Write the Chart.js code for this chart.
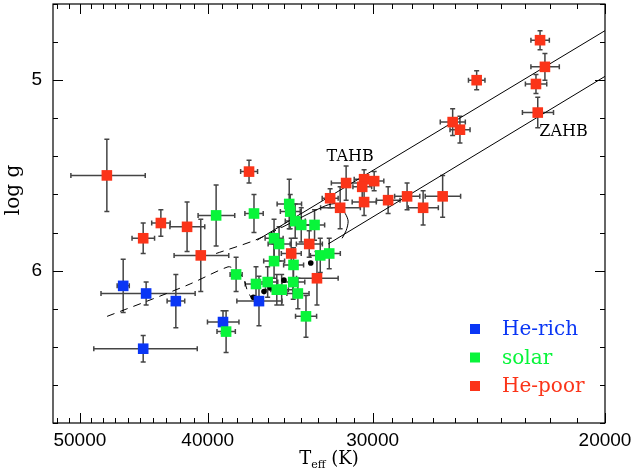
<!DOCTYPE html>
<html>
<head>
<meta charset="utf-8">
<script src="https://cdn.jsdelivr.net/npm/chart.js@4"></script>
<style>
  body { margin: 0; background: #fff; }
  #wrap { width: 632px; height: 473px; }
</style>
</head>
<body>
<div id="wrap"><canvas id="hbChart" width="632" height="473"></canvas></div>
<script>
// axis labels
const xTickLabels = [50000, 40000, 30000, 20000];
const yTickLabels = [5, 6];

// He-rich stars
const richTeff = [46360, 44540, 42290, 38950, 44770, 36580];
const richLogg = [6.08, 6.12, 6.16, 6.27, 6.41, 6.16];
const richTeffErr = [490, 3650, 650, 1070, 4030, 1440];
const richLoggErr = [0.14, 0.06, 0.14, 0.06, 0.07, 0.13];

// solar helium stars
const solarTeff = [39420, 36900, 38070, 34700, 34640, 34340, 33980, 33200, 35630, 35320, 32870,
                   32360, 35630, 34440, 36770, 36030, 34460, 35460, 35160, 34180, 33700, 38740];
const solarLogg = [5.71, 5.70, 6.02, 5.65, 5.69, 5.74, 5.76, 5.76, 5.83, 5.86, 5.92,
                   5.91, 5.95, 5.97, 6.07, 6.06, 6.06, 6.10, 6.10, 6.12, 6.24, 6.32];
const solarTeffErr = [1260, 590, 400, 740, 600, 600, 650, 580, 560, 680, 570,
                      620, 650, 600, 700, 630, 690, 710, 670, 660, 620, 620];
const solarLoggErr = [0.16, 0.10, 0.09, 0.13, 0.09, 0.09, 0.09, 0.08, 0.10, 0.09, 0.09,
                      0.08, 0.09, 0.09, 0.09, 0.08, 0.09, 0.08, 0.08, 0.08, 0.11, 0.11];

// He-poor stars
const poorTeff = [47700, 37220, 43410, 44770, 41470, 40490, 33510, 34580, 33060, 32310, 31750,
                  31420, 30450, 30550, 29920, 30450, 29200, 28250, 27470, 26550, 26090, 25760,
                  25020, 22400, 22210, 22560, 22490];
const poorLogg = [5.50, 5.48, 5.75, 5.83, 5.77, 5.92, 5.86, 5.91, 6.04, 5.62, 5.67,
                  5.54, 5.52, 5.56, 5.53, 5.64, 5.63, 5.61, 5.67, 5.61, 5.22, 5.26,
                  5.00, 4.79, 4.93, 5.02, 5.17];
const poorTeffErr = [3090, 550, 700, 880, 1260, 1930, 760, 600, 1200, 450, 1100,
                     820, 530, 500, 500, 640, 600, 620, 720, 820, 570, 450,
                     360, 360, 550, 420, 610];
const poorLoggErr = [0.19, 0.06, 0.07, 0.08, 0.13, 0.19, 0.07, 0.08, 0.14, 0.05, 0.11,
                     0.09, 0.05, 0.06, 0.05, 0.07, 0.07, 0.07, 0.09, 0.11, 0.07, 0.07,
                     0.05, 0.05, 0.07, 0.05, 0.08];

// small black dots
const dotTeff = [36940, 36260, 35860, 35020, 33420];
const dotLogg = [6.14, 6.11, 6.09, 6.05, 5.96];

// horizontal branch lines and tracks
const tahbTeff = [36700, 20000];
const tahbLogg = [5.84, 4.74];
const zahbTeff = [32420, 20000];
const zahbLogg = [5.86, 4.98];
const track1Teff = [47680, 44080, 41250, 38610, 38200, 37870, 37540, 37350, 37090];
const track1Logg = [6.24, 6.15, 6.07, 5.98, 5.99, 6.01, 6.05, 6.10, 6.14];
const track2Teff = [39420, 36830, 35080, 32590, 31860, 31470, 31310, 31420, 31640];
const track2Logg = [5.91, 5.84, 5.77, 5.66, 5.65, 5.70, 5.74, 5.79, 5.83];

const BLUE = '#0a36f5';
const GREEN = '#08f53a';
const RED = '#fb3419';

const pts = (xs, ys) => xs.map((x, i) => ({ x: x, y: ys[i] }));

const groups = [
    { T: richTeff, G: richLogg, dT: richTeffErr, dG: richLoggErr },
    { T: solarTeff, G: solarLogg, dT: solarTeffErr, dG: solarLoggErr },
    { T: poorTeff, G: poorLogg, dT: poorTeffErr, dG: poorLoggErr }
];

// error bars under the squares
const errorBars = {
    id: 'errorBars',
    beforeDatasetsDraw(chart) {
        const ctx = chart.ctx, xs = chart.scales.x, ys = chart.scales.y;
        const a = chart.chartArea;
        ctx.save();
        ctx.beginPath();
        ctx.rect(a.left, a.top, a.width, a.height);
        ctx.clip();
        ctx.strokeStyle = '#444';
        ctx.lineWidth = 1.5;
        const cap = 2.5;
        groups.forEach(g => {
            g.T.forEach((t, i) => {
                const x = xs.getPixelForValue(t), y = ys.getPixelForValue(g.G[i]);
                const x1 = xs.getPixelForValue(t - g.dT[i]), x2 = xs.getPixelForValue(t + g.dT[i]);
                const y1 = ys.getPixelForValue(g.G[i] - g.dG[i]), y2 = ys.getPixelForValue(g.G[i] + g.dG[i]);
                ctx.beginPath();
                ctx.moveTo(x1, y); ctx.lineTo(x2, y);
                ctx.moveTo(x1, y - cap); ctx.lineTo(x1, y + cap);
                ctx.moveTo(x2, y - cap); ctx.lineTo(x2, y + cap);
                ctx.moveTo(x, y1); ctx.lineTo(x, y2);
                ctx.moveTo(x - cap, y1); ctx.lineTo(x + cap, y1);
                ctx.moveTo(x - cap, y2); ctx.lineTo(x + cap, y2);
                ctx.stroke();
            });
        });
        ctx.restore();
    }
};

// box frame with inward ticks on all four sides, titles, labels, legend
const frameAndText = {
    id: 'frameAndText',
    afterDraw(chart) {
        const ctx = chart.ctx, xs = chart.scales.x, ys = chart.scales.y;
        const a = chart.chartArea;
        ctx.save();
        ctx.strokeStyle = '#000';
        ctx.lineWidth = 1.2;
        ctx.strokeRect(a.left, a.top, a.right - a.left, a.bottom - a.top);

        ctx.lineWidth = 1;
        ctx.beginPath();
        for (let t = 20000; t <= xs.max; t += 1000) {
            const px = Math.round(xs.getPixelForValue(t)) + 0.5;
            const len = t % 10000 === 0 ? 10 : 5;
            ctx.moveTo(px, a.bottom); ctx.lineTo(px, a.bottom - len);
            ctx.moveTo(px, a.top); ctx.lineTo(px, a.top + len);
        }
        for (let i = 0; i <= 11; i++) {
            const v = 4.6 + 0.2 * i;
            const py = Math.round(ys.getPixelForValue(v)) + 0.5;
            const len = Math.abs(v - Math.round(v)) < 1e-6 ? 10 : 5;
            ctx.moveTo(a.left, py); ctx.lineTo(a.left + len, py);
            ctx.moveTo(a.right, py); ctx.lineTo(a.right - len, py);
        }
        ctx.stroke();

        ctx.fillStyle = '#000';
        // x title: T_eff (K)
        const big = '18px "DejaVu Serif"', small = '11px "DejaVu Serif"';
        ctx.font = big;
        const wT = ctx.measureText('T').width, wK = ctx.measureText(' (K)').width;
        ctx.font = small;
        const wE = ctx.measureText('eff').width;
        let x0 = (a.left + a.right) / 2 - (wT + wE + wK) / 2;
        const base = 464;
        ctx.textBaseline = 'alphabetic';
        ctx.textAlign = 'left';
        ctx.font = big; ctx.fillText('T', x0, base);
        ctx.font = small; ctx.fillText('eff', x0 + wT, base + 4);
        ctx.font = big; ctx.fillText(' (K)', x0 + wT + wE, base);

        // y title
        ctx.save();
        ctx.translate(14, 190);
        ctx.rotate(-Math.PI / 2);
        ctx.font = '20px "DejaVu Serif"';
        ctx.textAlign = 'center';
        ctx.textBaseline = 'middle';
        ctx.fillText('log g', 0, 0);
        ctx.restore();

        // branch labels
        ctx.font = '16px "DejaVu Serif"';
        ctx.textAlign = 'center';
        ctx.textBaseline = 'middle';
        ctx.fillText('TAHB', xs.getPixelForValue(31200), ys.getPixelForValue(5.40));
        ctx.fillText('ZAHB', xs.getPixelForValue(21500), ys.getPixelForValue(5.27));

        // legend
        const items = [['He-rich', BLUE], ['solar', GREEN], ['He-poor', RED]];
        ctx.font = '20px "DejaVu Serif"';
        ctx.textAlign = 'left';
        items.forEach((it, i) => {
            const ly = 329 + i * 28.5;
            ctx.fillStyle = it[1];
            ctx.fillRect(470, ly - 5, 10, 10);
            ctx.fillText(it[0], 502, ly + 1);
        });
        ctx.restore();
    }
};

const markerStyle = color => ({
    pointStyle: 'rect', pointRadius: 7.5, pointHoverRadius: 7.5,
    backgroundColor: color, borderWidth: 0, showLine: false
});

// drop the label overflow padding so the plot box sits where it should
const noPad = s => { s.paddingTop = 0; s.paddingBottom = 0; s.paddingLeft = 0; s.paddingRight = 0; };

new Chart(document.getElementById('hbChart'), {
    type: 'scatter',
    data: {
        datasets: [
            Object.assign({ label: 'He-poor', data: pts(poorTeff, poorLogg) }, markerStyle(RED)),
            Object.assign({ label: 'solar', data: pts(solarTeff, solarLogg) }, markerStyle(GREEN)),
            Object.assign({ label: 'He-rich', data: pts(richTeff, richLogg) }, markerStyle(BLUE)),
            { label: 'dots', data: pts(dotTeff, dotLogg), pointStyle: 'circle', pointRadius: 2.8,
              backgroundColor: '#000', borderWidth: 0, showLine: false },
            { label: 'TAHB', data: pts(tahbTeff, tahbLogg), showLine: true, pointRadius: 0,
              borderColor: '#000', borderWidth: 1 },
            { label: 'ZAHB', data: pts(zahbTeff, zahbLogg), showLine: true, pointRadius: 0,
              borderColor: '#000', borderWidth: 1 },
            { label: 'track1', data: pts(track1Teff, track1Logg), showLine: true, pointRadius: 0,
              borderColor: '#000', borderWidth: 1, borderDash: [8, 6], tension: 0.3 },
            { label: 'track2', data: pts(track2Teff, track2Logg), showLine: true, pointRadius: 0,
              borderColor: '#000', borderWidth: 1, tension: 0.3,
              segment: { borderDash: c => c.p0DataIndex < 2 ? [8, 6] : [] } }
        ]
    },
    options: {
        responsive: false,
        animation: false,
        devicePixelRatio: 1,
        layout: { autoPadding: false, padding: { top: 4, right: 27, left: 0, bottom: 0 } },
        plugins: { legend: { display: false }, tooltip: { enabled: false } },
        scales: {
            x: {
                type: 'logarithmic',
                min: 20000, max: 52400,
                reverse: true,
                afterBuildTicks: s => { s.ticks = xTickLabels.map(v => ({ value: v })); },
                afterFit: s => { s.height = 50; noPad(s); },
                grid: { display: false, drawTicks: false },
                border: { display: false },
                ticks: {
                    callback: v => String(v),
                    autoSkip: false, maxRotation: 0,
                    padding: 6,
                    color: '#000',
                    font: { family: 'Liberation Sans', size: 19 }
                }
            },
            y: {
                type: 'linear',
                min: 4.6, max: 6.8,
                reverse: true,
                afterBuildTicks: s => { s.ticks = yTickLabels.map(v => ({ value: v })); },
                afterFit: s => { s.width = 53; noPad(s); },
                grid: { display: false, drawTicks: false },
                border: { display: false },
                ticks: {
                    callback: v => String(v),
                    padding: 11,
                    color: '#000',
                    font: { family: 'Liberation Sans', size: 19 }
                }
            }
        }
    },
    plugins: [errorBars, frameAndText]
});
</script>
</body>
</html>
